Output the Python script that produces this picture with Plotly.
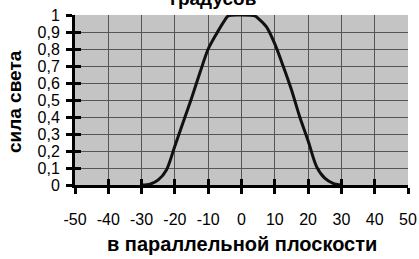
import plotly.graph_objects as go

# angle in the parallel plane (degrees) and relative light intensity
angles = [-30, -27.5, -25, -22.5, -20, -17.5, -15, -12.5, -10, -7.5, -5, -4,
          0, 4, 5, 7.5, 10, 12.5, 15, 17.5, 20, 22.5, 25, 27.5, 30]
intensity = [0.0, 0.005, 0.03, 0.09, 0.23, 0.37, 0.51, 0.66, 0.80, 0.89, 0.97, 0.995,
             1.0, 0.995, 0.98, 0.93, 0.83, 0.70, 0.56, 0.40, 0.26, 0.11, 0.04, 0.01, 0.0]

x_ticks = [-50, -40, -30, -20, -10, 0, 10, 20, 30, 40, 50]
x_tick_labels = ["-50", "-40", "-30", "-20", "-10", "0", "10", "20", "30", "40", "50"]
y_ticks = [0, 0.1, 0.2, 0.3, 0.4, 0.5, 0.6, 0.7, 0.8, 0.9, 1]
y_tick_labels = ["0", "0,1", "0,2", "0,3", "0,4", "0,5", "0,6", "0,7", "0,8", "0,9", "1"]

title_text = "градусов"
x_title = "в параллельной плоскости"
y_title = "сила света"

FONT = "Arial, Liberation Sans, sans-serif"

fig = go.Figure()
fig.add_trace(go.Scatter(x=angles, y=intensity, mode="lines",
                         line=dict(color="#111111", width=3, shape="spline", smoothing=0.8),
                         showlegend=False, hoverinfo="skip", cliponaxis=True))
# empty trace on overlay axes to draw inward tick halves
fig.add_trace(go.Scatter(x=[None], y=[None], xaxis="x2", yaxis="y2",
                         showlegend=False, hoverinfo="skip"))

common_grid = dict(showgrid=True, gridcolor="#555555", gridwidth=1, zeroline=False,
                   automargin=False)

fig.update_layout(
    width=419, height=259,
    margin=dict(l=75, r=11, t=15, b=74, autoexpand=False),
    paper_bgcolor="white",
    plot_bgcolor="#c4c4c4",
    font=dict(family=FONT, color="black"),
    xaxis=dict(range=[-50, 50], tickvals=x_ticks, ticktext=x_tick_labels, **common_grid,
               showline=True, linecolor="black", linewidth=3,
               ticks="outside", ticklen=6, tickwidth=3, tickcolor="black",
               tickfont=dict(size=16, family=FONT), ticklabelstandoff=12),
    yaxis=dict(range=[0, 1], tickvals=y_ticks, ticktext=y_tick_labels, **common_grid,
               showline=True, linecolor="black", linewidth=3,
               ticks="outside", ticklen=6, tickwidth=3, tickcolor="black",
               tickfont=dict(size=16, family=FONT), ticklabelstandoff=3),
    xaxis2=dict(range=[-50, 50], tickvals=x_ticks, overlaying="x", anchor="y2",
                showgrid=False, zeroline=False, showticklabels=False, automargin=False,
                ticks="inside", ticklen=6, tickwidth=3, tickcolor="black"),
    yaxis2=dict(range=[0, 1], tickvals=y_ticks, overlaying="y", anchor="x2",
                showgrid=False, zeroline=False, showticklabels=False, automargin=False,
                ticks="inside", ticklen=6, tickwidth=3, tickcolor="black"),
    annotations=[
        dict(text="<b>%s</b>" % title_text, xref="paper", yref="paper",
             x=0.414, y=1, xanchor="center", yanchor="bottom", yshift=4,
             showarrow=False, font=dict(size=19, family=FONT)),
        dict(text="<b>%s</b>" % x_title, xref="paper", yref="paper",
             x=0.5, y=-0.347, xanchor="center", yanchor="middle",
             showarrow=False, font=dict(size=20, family=FONT)),
        dict(text="<b>%s</b>" % y_title, xref="paper", yref="paper",
             x=0, y=0.488, xshift=-61, xanchor="center", yanchor="middle",
             textangle=-90, showarrow=False, font=dict(size=19, family=FONT)),
    ],
)

fig.write_html("out.html", config={"displayModeBar": False, "staticPlot": True},
               post_script="document.body.style.margin='0px';document.body.style.overflow='hidden';")
